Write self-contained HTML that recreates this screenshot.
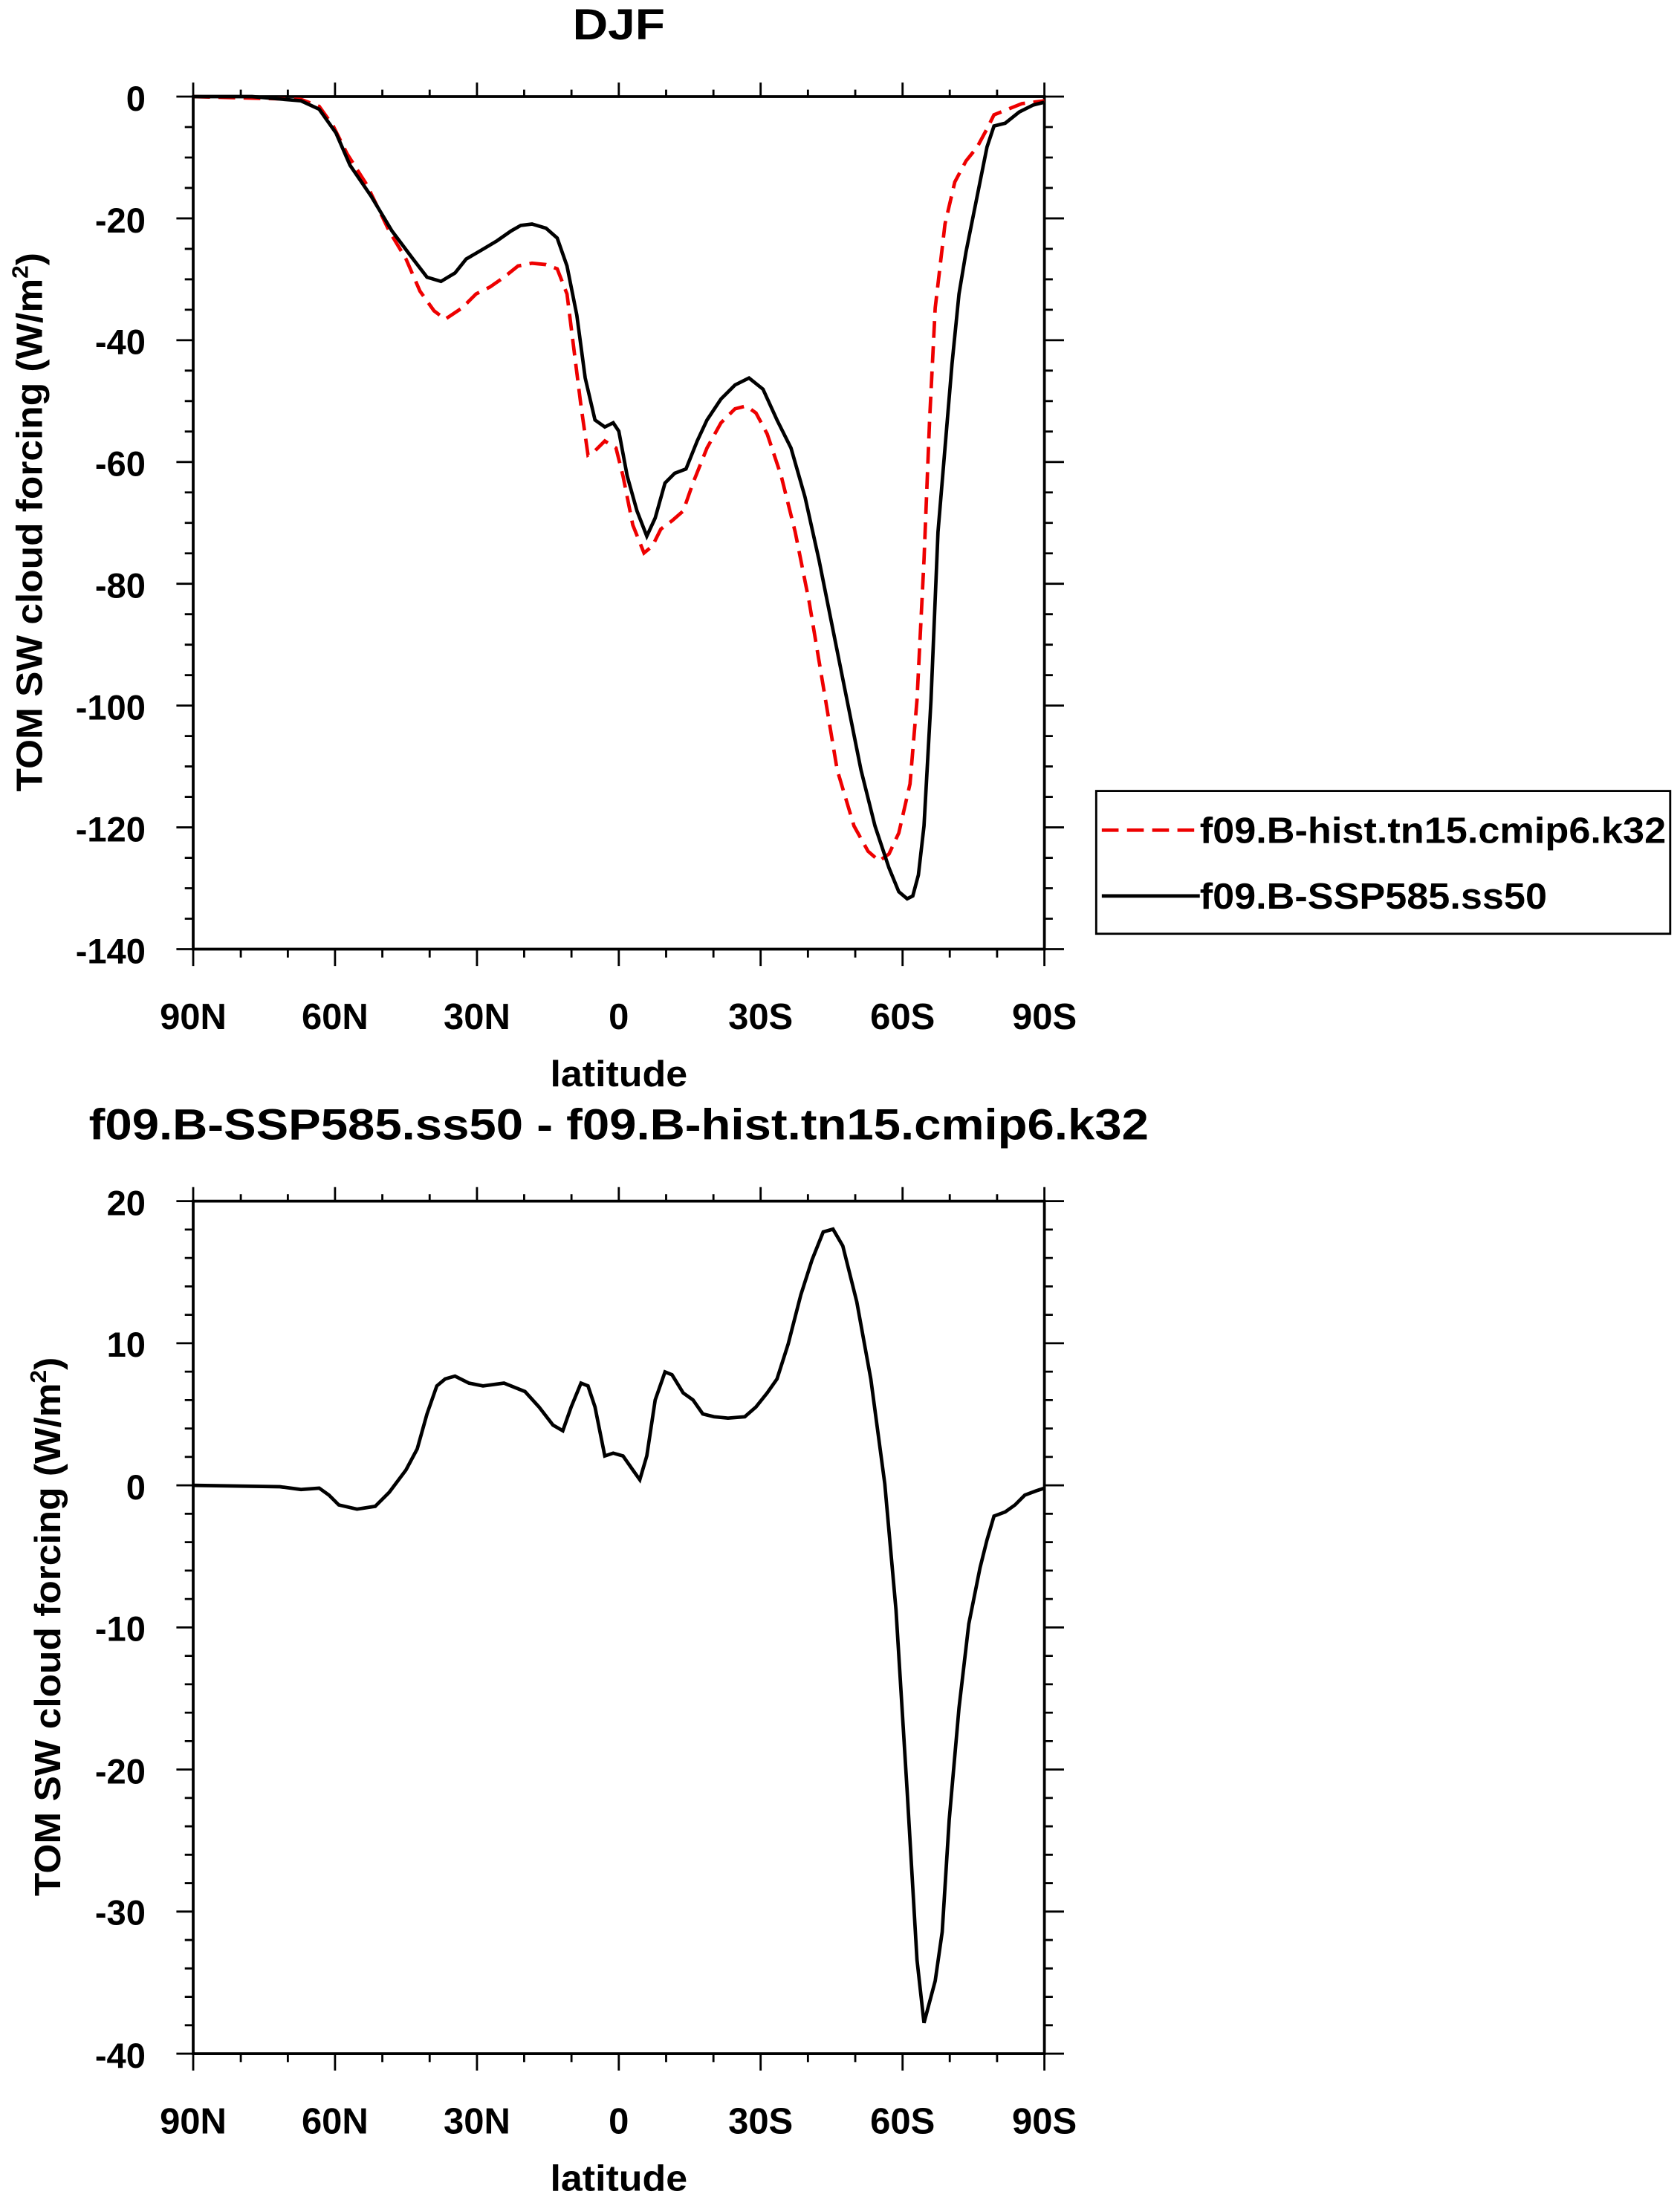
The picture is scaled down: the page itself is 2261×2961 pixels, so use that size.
<!DOCTYPE html>
<html><head><style>html,body{margin:0;padding:0;background:#fff}svg{display:block}text{font-family:"Liberation Sans",Arial,sans-serif;font-weight:bold;fill:#000}</style></head>
<body>
<svg width="2261" height="2961" viewBox="0 0 1200 1571.5" xmlns="http://www.w3.org/2000/svg">
<rect width="1200" height="1572" fill="#fff"/>
<text x="442" y="28" font-size="31" text-anchor="middle" textLength="66" lengthAdjust="spacingAndGlyphs">DJF</text>
<rect x="138" y="69" width="608" height="609" fill="none" stroke="#000" stroke-width="2"/>
<g stroke="#000" stroke-width="1.5">
<path d="M138,69v-10M239.3,69v-10M340.7,69v-10M442,69v-10M543.3,69v-10M644.7,69v-10M746,69v-10
M138,678v12M239.3,678v12M340.7,678v12M442,678v12M543.3,678v12M644.7,678v12M746,678v12
M172,69v-5M205.6,69v-5M273.1,69v-5M306.9,69v-5M374.4,69v-5M408.2,69v-5M475.8,69v-5M509.6,69v-5M577.1,69v-5M610.9,69v-5M678.4,69v-5M712.2,69v-5
M172,678v6M205.6,678v6M273.1,678v6M306.9,678v6M374.4,678v6M408.2,678v6M475.8,678v6M509.6,678v6M577.1,678v6M610.9,678v6M678.4,678v6M712.2,678v6"/>
<path d="M138,69h-12M138,156h-12M138,243h-12M138,330h-12M138,417h-12M138,504h-12M138,591h-12M138,678h-12
M746,69h14M746,156h14M746,243h14M746,330h14M746,417h14M746,504h14M746,591h14M746,678h14
M138,90.75h-6M138,112.5h-6M138,134.25h-6M138,177.75h-6M138,199.5h-6M138,221.25h-6M138,264.75h-6M138,286.5h-6M138,308.25h-6M138,351.75h-6M138,373.5h-6M138,395.25h-6M138,438.75h-6M138,460.5h-6M138,482.25h-6M138,525.75h-6M138,547.5h-6M138,569.25h-6M138,612.75h-6M138,634.5h-6M138,656.25h-6
M746,90.75h6M746,112.5h6M746,134.25h6M746,177.75h6M746,199.5h6M746,221.25h6M746,264.75h6M746,286.5h6M746,308.25h6M746,351.75h6M746,373.5h6M746,395.25h6M746,438.75h6M746,460.5h6M746,482.25h6M746,525.75h6M746,547.5h6M746,569.25h6M746,612.75h6M746,634.5h6M746,656.25h6"/>
</g>
<g font-size="25" text-anchor="end">
<text x="104" y="79">0</text><text x="104" y="166">-20</text><text x="104" y="253">-40</text><text x="104" y="340">-60</text><text x="104" y="427">-80</text><text x="104" y="514">-100</text><text x="104" y="601">-120</text><text x="104" y="688">-140</text>
</g>
<g font-size="26" text-anchor="middle">
<text x="138" y="735">90N</text><text x="239.3" y="735">60N</text><text x="340.7" y="735">30N</text><text x="442" y="735">0</text><text x="543.3" y="735">30S</text><text x="644.7" y="735">60S</text><text x="746" y="735">90S</text>
<text x="442" y="776" textLength="98" lengthAdjust="spacingAndGlyphs">latitude</text>
</g>
<text transform="translate(30,373) rotate(-90)" font-size="26" text-anchor="middle" textLength="385" lengthAdjust="spacingAndGlyphs">TOM SW cloud forcing (W/m<tspan font-size="16" dy="-10">2</tspan><tspan dy="10">)</tspan></text>
<path fill="none" stroke="#e00" stroke-width="2.5" stroke-dasharray="12,6" d="M138,69 L215,71 L228,76 L238,90 L248,110 L262,132 L278,165 L290,185 L300,208 L310,222 L318,228 L330,220 L340,210 L350,205 L360,198 L370,190 L380,188 L390,189 L398,192 L405,210 L410,250 L415,290 L420,325 L425,322 L432,315 L440,320 L445,340 L452,375 L460,395 L466,390 L472,378 L480,372 L488,365 L495,345 L505,320 L515,302 L525,292 L533,290 L540,295 L548,310 L558,340 L568,380 L578,430 L588,490 L598,550 L610,590 L620,608 L628,615 L635,610 L642,595 L650,560 L655,500 L660,400 L664,300 L668,220 L675,160 L682,130 L690,115 L698,105 L705,92 L710,82 L720,78 L730,74 L746,72"/>
<path fill="none" stroke="#000" stroke-width="2.5" d="M138,69 L180,69 L215,72 L228,78 L240,95 L250,118 L265,140 L280,165 L295,185 L305,198 L315,201 L325,195 L333,185 L345,178 L355,172 L365,165 L372,161 L380,160 L390,163 L398,170 L405,190 L412,225 L418,270 L425,300 L432,305 L438,302 L442,308 L448,340 L455,365 L462,383 L468,370 L475,345 L482,338 L490,335 L498,315 L505,300 L515,285 L525,275 L535,270 L545,278 L555,300 L565,320 L575,355 L585,400 L595,450 L605,500 L615,550 L625,590 L635,620 L642,637 L648,642 L652,640 L656,625 L660,590 L665,500 L670,380 L675,320 L680,260 L685,210 L690,180 L695,155 L700,130 L705,105 L710,90 L718,88 L728,80 L738,75 L746,73"/>
<rect x="783" y="565" width="410" height="102" fill="#fff" stroke="#000" stroke-width="1.5"/>
<line x1="787" y1="593" x2="857" y2="593" stroke="#e00" stroke-width="2.5" stroke-dasharray="12,6"/>
<line x1="787" y1="640" x2="857" y2="640" stroke="#000" stroke-width="2.5"/>
<text x="857" y="602" font-size="26" textLength="333" lengthAdjust="spacingAndGlyphs">f09.B-hist.tn15.cmip6.k32</text>
<text x="857" y="649" font-size="26" textLength="248" lengthAdjust="spacingAndGlyphs">f09.B-SSP585.ss50</text>

<text x="442" y="814" font-size="31" text-anchor="middle" textLength="757" lengthAdjust="spacingAndGlyphs">f09.B-SSP585.ss50 - f09.B-hist.tn15.cmip6.k32</text>
<rect x="138" y="858" width="608" height="609" fill="none" stroke="#000" stroke-width="2"/>
<g stroke="#000" stroke-width="1.5">
<path d="M138,858v-10M239.3,858v-10M340.7,858v-10M442,858v-10M543.3,858v-10M644.7,858v-10M746,858v-10
M138,1467v12M239.3,1467v12M340.7,1467v12M442,1467v12M543.3,1467v12M644.7,1467v12M746,1467v12
M172,858v-5M205.6,858v-5M273.1,858v-5M306.9,858v-5M374.4,858v-5M408.2,858v-5M475.8,858v-5M509.6,858v-5M577.1,858v-5M610.9,858v-5M678.4,858v-5M712.2,858v-5
M172,1467v6M205.6,1467v6M273.1,1467v6M306.9,1467v6M374.4,1467v6M408.2,1467v6M475.8,1467v6M509.6,1467v6M577.1,1467v6M610.9,1467v6M678.4,1467v6M712.2,1467v6
M138,858h-12M138,959.5h-12M138,1061h-12M138,1162.5h-12M138,1264h-12M138,1365.5h-12M138,1467h-12
M746,858h14M746,959.5h14M746,1061h14M746,1162.5h14M746,1264h14M746,1365.5h14M746,1467h14
M138,878.3h-6M138,898.6h-6M138,918.9h-6M138,939.2h-6M138,979.8h-6M138,1000.1h-6M138,1020.4h-6M138,1040.7h-6M138,1081.3h-6M138,1101.6h-6M138,1121.9h-6M138,1142.2h-6M138,1182.8h-6M138,1203.1h-6M138,1223.4h-6M138,1243.7h-6M138,1284.3h-6M138,1304.6h-6M138,1324.9h-6M138,1345.2h-6M138,1385.8h-6M138,1406.1h-6M138,1426.4h-6M138,1446.7h-6
M746,878.3h6M746,898.6h6M746,918.9h6M746,939.2h6M746,979.8h6M746,1000.1h6M746,1020.4h6M746,1040.7h6M746,1081.3h6M746,1101.6h6M746,1121.9h6M746,1142.2h6M746,1182.8h6M746,1203.1h6M746,1223.4h6M746,1243.7h6M746,1284.3h6M746,1304.6h6M746,1324.9h6M746,1345.2h6M746,1385.8h6M746,1406.1h6M746,1426.4h6M746,1446.7h6"/>
</g>
<g font-size="25" text-anchor="end">
<text x="104" y="868">20</text><text x="104" y="969">10</text><text x="104" y="1071">0</text><text x="104" y="1172">-10</text><text x="104" y="1274">-20</text><text x="104" y="1375">-30</text><text x="104" y="1477">-40</text>
</g>
<g font-size="26" text-anchor="middle">
<text x="138" y="1524">90N</text><text x="239.3" y="1524">60N</text><text x="340.7" y="1524">30N</text><text x="442" y="1524">0</text><text x="543.3" y="1524">30S</text><text x="644.7" y="1524">60S</text><text x="746" y="1524">90S</text>
<text x="442" y="1565" textLength="98" lengthAdjust="spacingAndGlyphs">latitude</text>
</g>
<text transform="translate(43,1162) rotate(-90)" font-size="26" text-anchor="middle" textLength="385" lengthAdjust="spacingAndGlyphs">TOM SW cloud forcing (W/m<tspan font-size="16" dy="-10">2</tspan><tspan dy="10">)</tspan></text>
<path fill="none" stroke="#000" stroke-width="2.5" d="M138,1061 L200,1062 L215,1064 L228,1063 L235,1068 L242,1075 L255,1078 L268,1076 L278,1066 L290,1050 L298,1035 L305,1010 L312,990 L318,985 L325,983 L335,988 L345,990 L360,988 L375,994 L385,1005 L395,1018 L402,1022 L408,1005 L415,988 L420,990 L425,1005 L432,1040 L438,1038 L445,1040 L452,1050 L457,1057 L462,1040 L468,1000 L475,980 L480,982 L488,995 L495,1000 L502,1010 L510,1012 L520,1013 L532,1012 L540,1005 L548,995 L555,985 L563,960 L572,925 L580,900 L588,880 L595,878 L602,890 L612,930 L622,985 L632,1060 L640,1150 L648,1280 L655,1400 L660,1445 L664,1430 L668,1415 L673,1380 L678,1300 L685,1220 L692,1160 L700,1120 L705,1100 L710,1083 L718,1080 L725,1075 L732,1068 L740,1065 L746,1063"/>
</svg>
</body></html>
